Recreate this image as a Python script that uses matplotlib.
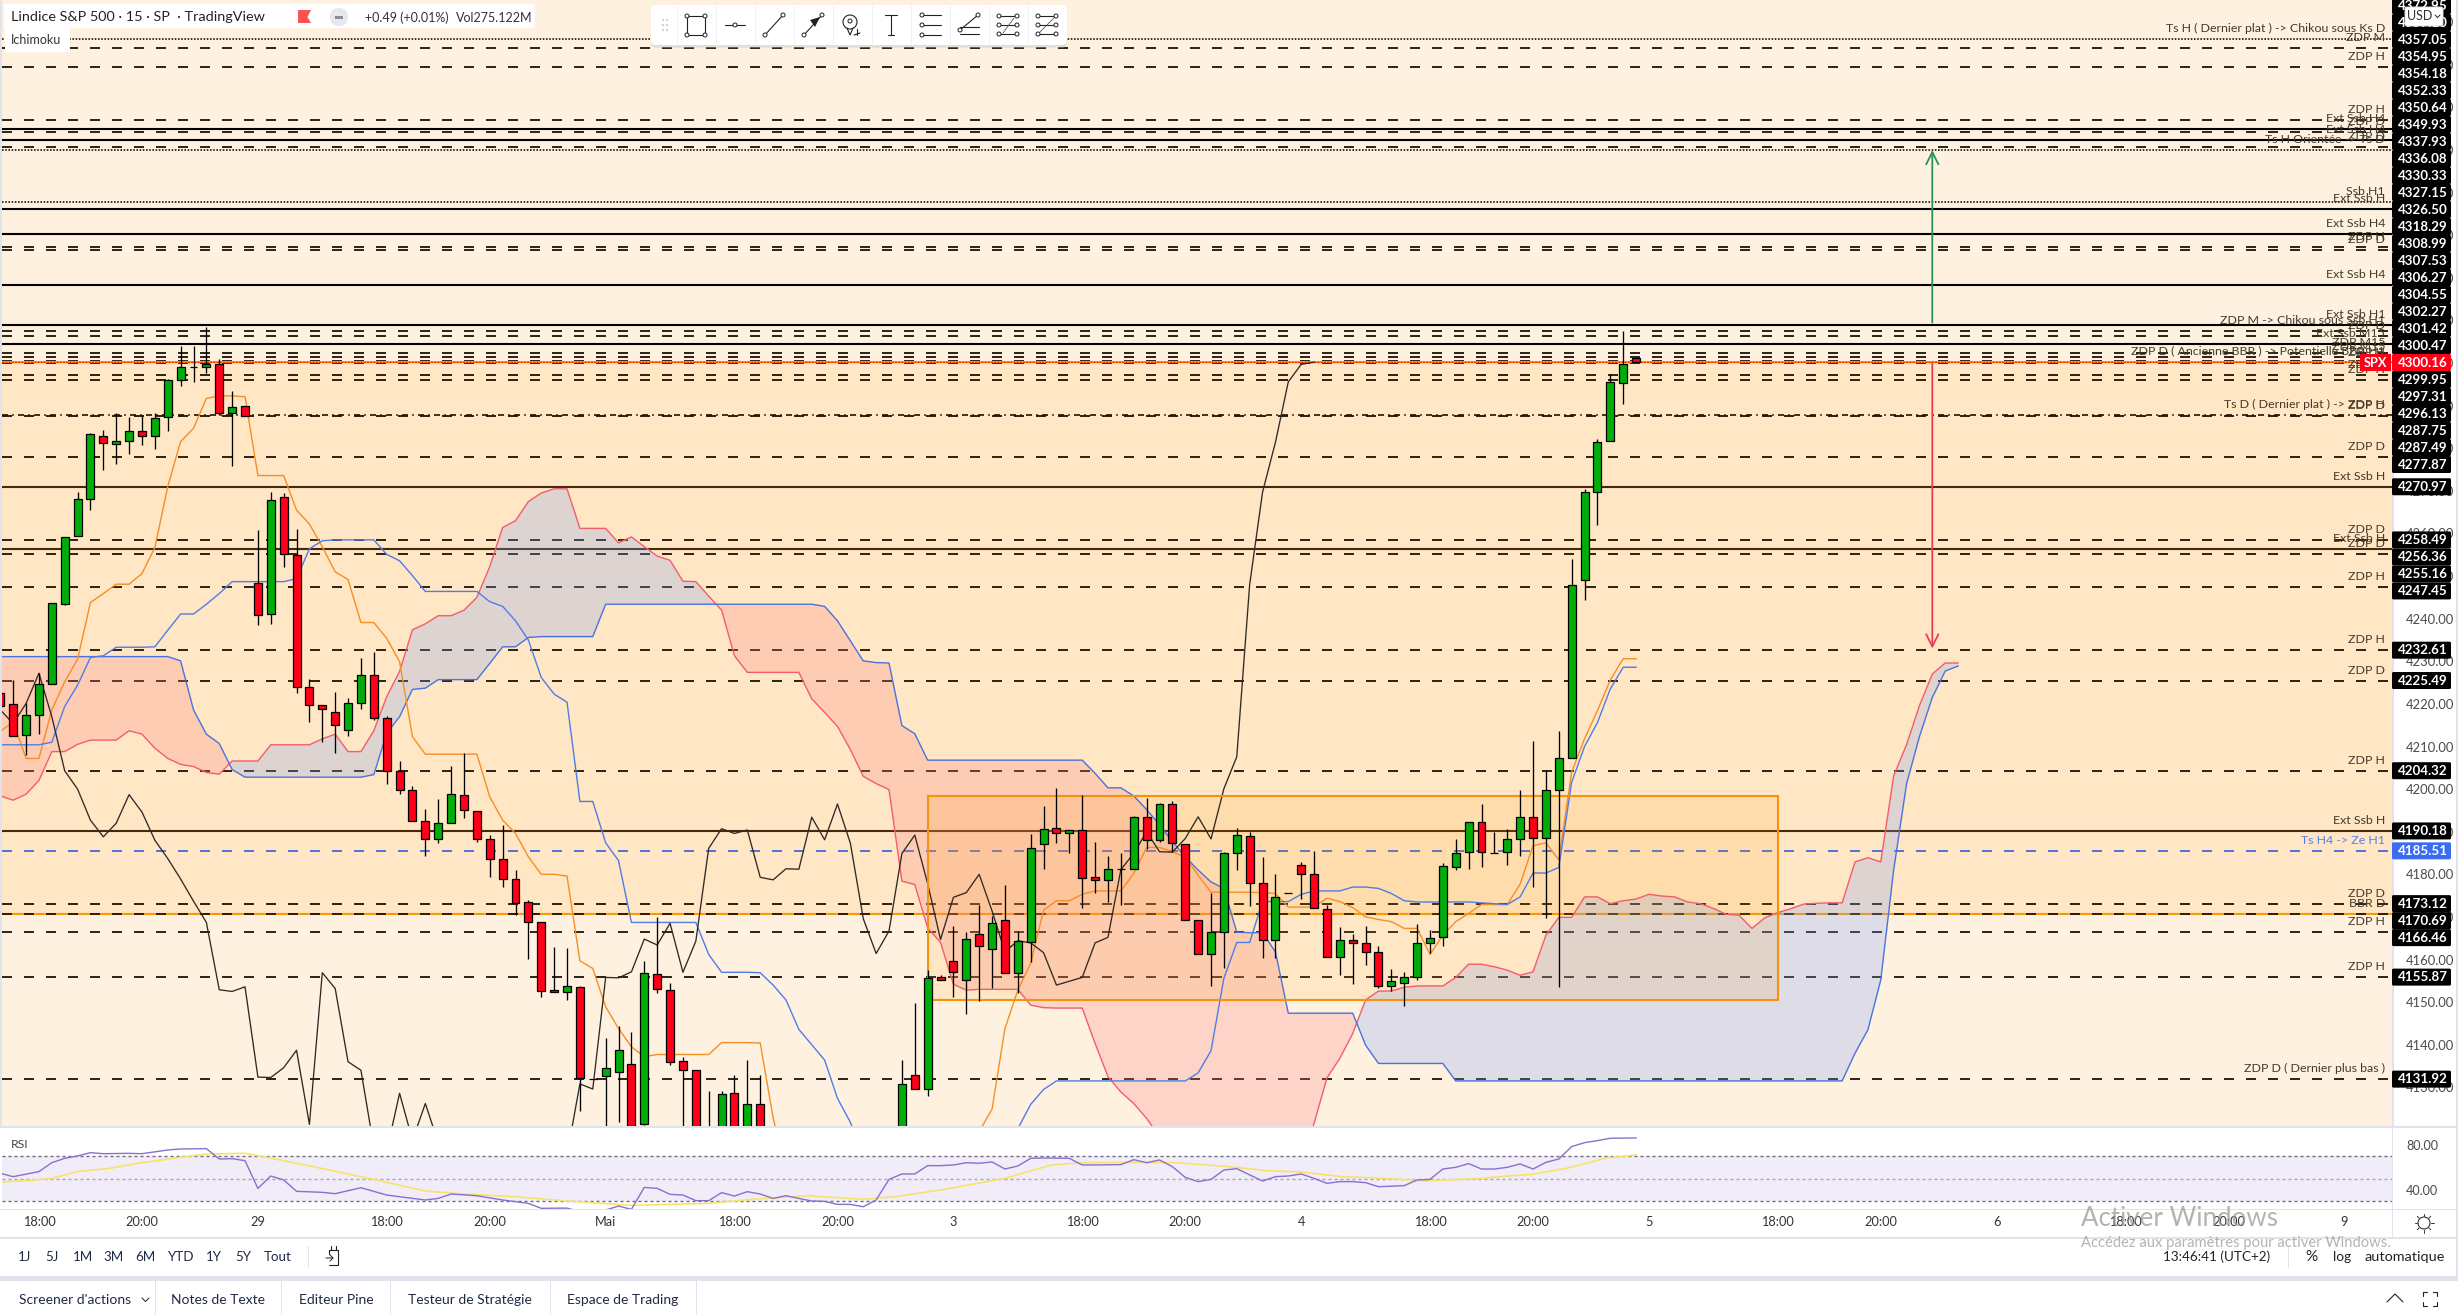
import numpy as np
import matplotlib
matplotlib.use("Agg")
import matplotlib.pyplot as plt
from matplotlib.patches import Rectangle, FancyBboxPatch, Circle

plt.rcParams['font.family'] = ['Lato', 'DejaVu Sans']
plt.rcParams['lines.scale_dashes'] = False

nan = float('nan')

# =========================== candles (S&P 500, 15 min) =========================
# bars 60-69 sit below the visible price range
opens = [4222.5, 4219.9, 4212.6, 4217.3, 4224.6, 4243.5, 4259.3, 4268.0, 4283.0, 4280.9,
         4281.6, 4284.0, 4283.0, 4287.3, 4296.0, 4299.0, 4299.0, 4299.9, 4288.2, 4290.0,
         4248.3, 4241.0, 4268.5, 4254.9, 4223.9, 4219.7, 4218.0, 4213.8, 4220.1, 4226.7,
         4216.6, 4204.2, 4199.9, 4192.4, 4188.4, 4192.0, 4198.5, 4194.8, 4188.4, 4183.5,
         4178.8, 4173.6, 4168.7, 4152.8, 4152.3, 4153.5, 4132.0, 4132.6, 4133.7, 4135.4,
         4121.4, 4156.5, 4152.8, 4136.1, 4134.0, 4118.0, 4114.0, 4128.6, 4114.0, 4126.2,
         nan, nan, nan, nan, nan, nan, nan, nan, nan, nan,
         4118.0, 4133.0, 4129.5, 4155.8, 4159.6, 4155.3, 4166.1, 4162.4, 4169.2, 4156.8,
         4164.0, 4187.0, 4190.8, 4189.6, 4190.3, 4179.3, 4178.6, 4181.2, 4181.2, 4193.4,
         4188.0, 4196.4, 4187.0, 4169.2, 4161.4, 4166.4, 4184.9, 4188.9, 4177.9, 4164.5,
         4175.5, 4182.3, 4180.0, 4171.8, 4160.5, 4164.5, 4163.8, 4161.7, 4153.9, 4154.6,
         4155.9, 4163.9, 4165.2, 4181.8, 4185.2, 4192.2, 4185.1, 4185.2, 4188.3, 4193.4,
         4188.5, 4199.7, 4207.2, 4249.2, 4269.7, 4281.6, 4295.4, 4301.2]
highs = [4222.5, 4225.6, 4220.1, 4227.2, 4243.6, 4259.1, 4269.8, 4283.5, 4284.3, 4288.2,
         4287.4, 4287.8, 4288.4, 4296.2, 4304.0, 4304.0, 4308.4, 4300.9, 4293.4, 4290.0,
         4260.8, 4269.7, 4269.5, 4261.1, 4225.8, 4219.7, 4222.8, 4221.5, 4230.7, 4232.2,
         4217.2, 4206.6, 4200.7, 4195.3, 4197.7, 4205.4, 4208.5, 4194.8, 4189.2, 4191.6,
         4181.0, 4174.0, 4168.7, 4162.9, 4162.7, 4153.8, 4132.0, 4141.6, 4144.4, 4143.0,
         4159.6, 4169.9, 4154.4, 4137.0, 4134.0, 4129.1, 4129.1, 4132.9, 4136.4, 4132.9,
         nan, nan, nan, nan, nan, nan, nan, nan, nan, nan,
         4136.4, 4149.9, 4157.5, 4156.4, 4167.8, 4166.4, 4172.8, 4170.2, 4177.4, 4166.6,
         4189.4, 4196.0, 4200.2, 4190.3, 4198.6, 4187.5, 4184.2, 4184.9, 4193.8, 4197.8,
         4196.7, 4197.1, 4187.0, 4169.2, 4175.5, 4185.2, 4190.8, 4189.9, 4184.0, 4180.0,
         4175.5, 4183.0, 4185.4, 4172.7, 4167.6, 4166.1, 4167.8, 4163.1, 4157.8, 4157.0,
         4168.3, 4166.9, 4182.7, 4188.3, 4192.2, 4196.5, 4189.9, 4190.7, 4199.8, 4211.2,
         4204.4, 4213.6, 4254.0, 4270.5, 4282.2, 4297.4, 4307.6, 4301.2]
lows = [4219.6, 4212.4, 4208.0, 4212.9, 4224.6, 4243.2, 4259.3, 4265.4, 4274.9, 4276.3,
        4278.7, 4280.8, 4279.8, 4284.1, 4294.6, 4295.6, 4297.6, 4287.7, 4275.8, 4287.5,
        4238.6, 4238.7, 4252.2, 4222.6, 4215.8, 4211.1, 4208.5, 4212.5, 4218.7, 4216.2,
        4201.3, 4198.9, 4192.4, 4184.4, 4187.4, 4192.0, 4193.3, 4187.7, 4179.4, 4177.1,
        4170.5, 4160.2, 4151.3, 4152.3, 4150.6, 4124.5, 4132.0, 4118.0, 4121.9, 4118.0,
        4121.1, 4152.1, 4135.3, 4115.0, 4114.0, 4112.0, 4112.0, 4112.0, 4112.0, 4112.0,
        nan, nan, nan, nan, nan, nan, nan, nan, nan, nan,
        4116.0, 4129.5, 4128.0, 4155.3, 4151.3, 4147.3, 4150.3, 4153.2, 4156.8, 4152.1,
        4159.5, 4181.3, 4187.4, 4185.1, 4172.2, 4175.5, 4173.4, 4172.9, 4181.2, 4185.9,
        4187.7, 4185.3, 4169.2, 4161.2, 4153.9, 4158.1, 4180.9, 4172.6, 4160.4, 4160.4,
        4175.5, 4174.3, 4172.0, 4160.5, 4156.4, 4154.3, 4158.8, 4153.3, 4152.5, 4149.2,
        4155.3, 4161.5, 4163.1, 4180.9, 4181.2, 4181.6, 4185.1, 4182.1, 4184.4, 4177.1,
        4169.7, 4153.6, 4207.2, 4244.5, 4261.9, 4281.6, 4290.5, 4300.2]
closes = [4219.6, 4212.4, 4217.5, 4224.6, 4243.6, 4259.1, 4268.0, 4283.3, 4281.2, 4281.6,
          4284.0, 4282.8, 4287.0, 4296.0, 4299.0, 4299.0, 4299.9, 4288.4, 4289.8, 4287.5,
          4240.8, 4267.8, 4255.1, 4223.9, 4219.7, 4218.7, 4215.0, 4220.1, 4226.9, 4216.8,
          4204.2, 4199.9, 4192.4, 4188.4, 4192.0, 4198.8, 4195.0, 4188.4, 4183.5, 4178.8,
          4173.2, 4168.7, 4152.5, 4152.3, 4153.7, 4132.3, 4132.0, 4134.5, 4138.7, 4121.0,
          4156.8, 4153.0, 4135.9, 4134.0, 4116.0, 4114.0, 4128.4, 4114.0, 4126.0, 4114.0,
          nan, nan, nan, nan, nan, nan, nan, nan, nan, nan,
          4130.7, 4129.5, 4155.6, 4155.3, 4157.0, 4164.7, 4163.1, 4168.5, 4156.8, 4164.3,
          4186.1, 4190.6, 4189.6, 4190.3, 4179.1, 4178.6, 4181.2, 4181.2, 4193.4, 4188.0,
          4196.4, 4187.3, 4169.2, 4161.2, 4166.4, 4184.9, 4189.2, 4177.9, 4164.5, 4174.6,
          4175.5, 4180.0, 4172.0, 4160.5, 4164.5, 4163.8, 4161.7, 4153.9, 4154.9, 4155.8,
          4163.8, 4165.1, 4181.9, 4185.1, 4192.2, 4185.2, 4185.1, 4188.2, 4193.4, 4188.5,
          4199.7, 4207.4, 4248.0, 4269.7, 4281.4, 4295.6, 4299.7, 4300.2]

# =========================== ichimoku ==========================================
tenkan = [4213.5, 4215.8, 4207.2, 4207.2, 4218.6, 4225.2, 4230.5, 4243.8, 4245.9, 4248.1,
          4248.1, 4250.6, 4256.7, 4271.0, 4281.6, 4284.7, 4291.7, 4292.3, 4292.3, 4292.1,
          4273.6, 4273.6, 4273.6, 4265.5, 4262.2, 4256.9, 4251.0, 4249.2, 4239.1, 4239.1,
          4235.4, 4229.9, 4212.3, 4208.2, 4208.2, 4208.2, 4208.2, 4208.2, 4198.2, 4192.7,
          4189.6, 4184.1, 4180.0, 4180.0, 4179.6, 4159.7, 4157.9, 4148.9, 4143.8, 4139.5,
          4137.2, 4137.7, 4137.7, 4137.7, 4137.7, 4137.7, 4140.5, 4140.5, 4140.5, 4140.4,
          4122.9, 4110.0, nan, nan, nan, nan, nan, nan, nan, nan,
          nan, nan, nan, nan, nan, 4110.0, 4119.6, 4124.9, 4143.8, 4152.8,
          4159.1, 4171.6, 4173.8, 4173.8, 4175.3, 4176.1, 4176.1, 4176.1, 4180.2, 4186.3,
          4186.3, 4185.3, 4184.0, 4179.8, 4175.8, 4175.8, 4175.8, 4175.8, 4175.7, 4175.5,
          4172.3, 4172.3, 4172.3, 4174.4, 4173.6, 4172.2, 4170.0, 4169.4, 4168.9, 4167.3,
          4167.3, 4161.2, 4165.7, 4168.9, 4170.8, 4172.9, 4172.9, 4172.9, 4177.7, 4186.7,
          4187.4, 4183.4, 4204.0, 4211.8, 4218.4, 4225.6, 4230.6, 4230.6]
kijun = [4210.4, 4210.4, 4210.4, 4210.4, 4211.0, 4219.4, 4224.4, 4230.9, 4231.3, 4233.3,
         4233.3, 4233.3, 4233.4, 4237.3, 4241.1, 4241.1, 4243.4, 4245.9, 4248.7, 4248.7,
         4248.7, 4248.7, 4248.7, 4249.4, 4256.4, 4258.3, 4258.5, 4258.5, 4258.5, 4258.5,
         4255.1, 4253.6, 4250.1, 4246.4, 4246.4, 4246.4, 4246.4, 4246.4, 4244.0, 4242.9,
         4239.5, 4235.0, 4226.2, 4222.3, 4220.4, 4197.1, 4197.1, 4187.4, 4183.2, 4168.7,
         4168.7, 4168.7, 4168.7, 4168.7, 4168.7, 4161.2, 4157.0, 4157.0, 4157.0, 4156.9,
         4154.0, 4150.5, 4143.6, 4140.0, 4136.4, 4127.4, 4121.8, 4113.0, nan, nan,
         nan, nan, nan, nan, nan, nan, nan, nan, 4113.0, 4120.3,
         4126.0, 4129.5, 4131.5, 4131.5, 4131.5, 4131.5, 4131.5, 4131.5, 4131.5, 4131.5,
         4131.5, 4131.5, 4131.5, 4133.4, 4138.6, 4155.6, 4164.0, 4164.0, 4173.6, 4173.6,
         4173.6, 4175.3, 4176.1, 4176.1, 4176.1, 4177.0, 4177.0, 4176.7, 4175.5, 4173.8,
         4173.5, 4173.5, 4173.5, 4173.5, 4173.5, 4173.3, 4173.1, 4172.9, 4174.7, 4180.3,
         4180.3, 4181.6, 4201.6, 4210.0, 4215.6, 4223.5, 4228.6, 4228.6]
senkou_a = [4198.4, 4197.4, 4198.8, 4202.0, 4208.8, 4208.8, 4210.5, 4211.5, 4211.5, 4211.5,
            4213.7, 4212.9, 4209.6, 4207.2, 4205.8, 4205.3, 4203.9, 4203.5, 4206.6, 4206.6,
            4206.6, 4210.4, 4210.4, 4210.4, 4210.4, 4211.8, 4212.9, 4208.8, 4208.8, 4213.7,
            4221.7, 4227.6, 4237.4, 4238.8, 4240.7, 4240.7, 4242.0, 4245.0, 4252.2, 4261.4,
            4263.0, 4267.5, 4269.5, 4270.5, 4270.5, 4261.2, 4261.2, 4261.2, 4257.8, 4259.2,
            4256.9, 4254.7, 4253.7, 4248.8, 4248.7, 4245.3, 4242.0, 4231.3, 4227.4, 4227.4,
            4227.4, 4227.4, 4227.4, 4221.2, 4218.0, 4214.7, 4209.3, 4203.0, 4201.3, 4199.9,
            4178.4, 4177.6, 4167.4, 4164.0, 4154.2, 4152.8, 4153.0, 4153.0, 4153.0, 4153.0,
            4149.3, 4148.7, 4148.6, 4148.6, 4148.6, 4140.3, 4132.5, 4128.9, 4126.2, 4122.7,
            4118.4, 4112.0, 4112.0, 4112.0, 4112.0, 4112.0, 4112.0, 4112.0, 4112.0, 4112.0,
            4112.0, 4112.0, 4121.5, 4132.2, 4136.8, 4142.6, 4150.5, 4152.6, 4152.6, 4153.5,
            4153.8, 4153.8, 4153.8, 4155.8, 4158.9, 4158.9, 4158.3, 4157.5, 4156.3, 4157.1,
            4165.7, 4169.9, 4169.9, 4174.7, 4174.7, 4173.1, 4173.8, 4174.2, 4175.3, 4174.9,
            4174.7, 4173.5, 4173.1, 4172.0, 4170.6, 4170.4, 4167.3, 4169.8, 4171.0, 4171.9,
            4173.0, 4173.2, 4173.3, 4173.3, 4182.9, 4183.9, 4182.9, 4203.1, 4210.4, 4219.6,
            4227.0, 4229.6, 4229.6]
senkou_b = [4231.1, 4231.1, 4231.1, 4231.1, 4231.1, 4231.1, 4231.1, 4231.1, 4231.1, 4231.1,
            4231.1, 4231.1, 4231.1, 4231.1, 4230.1, 4218.6, 4212.9, 4210.7, 4204.6, 4202.8,
            4202.8, 4202.8, 4202.8, 4202.8, 4202.8, 4202.8, 4202.8, 4202.8, 4202.8, 4203.4,
            4213.1, 4217.0, 4223.4, 4223.7, 4225.7, 4225.7, 4225.7, 4225.7, 4229.5, 4233.4,
            4233.4, 4235.6, 4235.8, 4235.8, 4235.8, 4235.8, 4235.8, 4243.4, 4243.4, 4243.4,
            4243.4, 4243.4, 4243.4, 4243.4, 4243.4, 4243.4, 4243.4, 4243.4, 4243.4, 4243.4,
            4243.4, 4243.4, 4243.4, 4243.4, 4242.9, 4239.5, 4234.8, 4230.1, 4229.7, 4229.6,
            4214.9, 4213.0, 4206.8, 4206.8, 4206.8, 4206.8, 4206.8, 4206.8, 4206.8, 4206.8,
            4206.8, 4206.8, 4206.8, 4206.8, 4206.8, 4203.7, 4200.3, 4200.3, 4198.4, 4195.2,
            4191.6, 4187.7, 4184.1, 4181.0, 4178.2, 4176.7, 4166.4, 4166.3, 4166.3, 4161.8,
            4147.4, 4147.4, 4147.4, 4147.4, 4147.4, 4147.4, 4139.9, 4135.6, 4135.6, 4135.6,
            4135.6, 4135.6, 4135.6, 4131.5, 4131.5, 4131.5, 4131.5, 4131.5, 4131.5, 4131.5,
            4131.5, 4131.5, 4131.5, 4131.5, 4131.5, 4131.5, 4131.5, 4131.5, 4131.5, 4131.5,
            4131.5, 4131.5, 4131.5, 4131.5, 4131.5, 4131.5, 4131.5, 4131.5, 4131.5, 4131.5,
            4131.5, 4131.5, 4131.5, 4131.5, 4138.0, 4143.5, 4155.2, 4181.0, 4201.2, 4212.3,
            4221.5, 4227.7, 4228.9]
chikou = [4218.6, 4215.4, 4220.1, 4227.2, 4217.0, 4204.3, 4200.0, 4192.7, 4188.8, 4192.0,
          4198.7, 4194.6, 4188.0, 4183.7, 4178.9, 4173.7, 4168.7, 4152.9, 4152.5, 4153.6,
          4132.4, 4132.3, 4134.6, 4138.7, 4121.3, 4156.9, 4153.2, 4136.0, 4134.0, 4116.0,
          4115.0, 4128.6, 4117.6, 4126.2, 4117.0, nan, nan, nan, nan, nan,
          nan, nan, nan, nan, 4114.1, 4130.8, 4129.6, 4155.8, 4155.7, 4157.1,
          4164.8, 4163.4, 4168.5, 4157.0, 4164.3, 4186.1, 4190.7, 4189.6, 4190.4, 4179.3,
          4178.7, 4181.3, 4181.2, 4193.4, 4188.1, 4196.5, 4187.3, 4169.6, 4161.4, 4166.7,
          4184.9, 4189.2, 4177.8, 4164.7, 4174.6, 4175.7, 4180.0, 4171.4, 4161.8, 4164.4,
          4163.9, 4161.6, 4154.0, 4154.9, 4155.8, 4163.9, 4165.2, 4181.1, 4184.9, 4190.0,
          4185.3, 4185.2, 4188.4, 4193.5, 4188.3, 4200.1, 4207.6, 4248.0, 4269.7, 4281.4,
          4295.6, 4299.7, 4300.2]

# =========================== RSI ===============================================
rsi_bars = [0, 1, 3, 4, 5, 6, 7, 8, 10, 11, 13, 14, 16, 17, 18, 19, 20, 21, 22, 23, 25, 26, 28, 30, 31,
            33, 34, 35, 37, 39, 41, 42, 44, 45, 47, 48, 49, 50, 51, 52, 53, 54, 55, 56, 57, 58, 59, 60,
            61, 62, 63, 64, 65, 66, 67, 68, 69, 70, 71, 72, 73, 74, 75, 76, 77, 78, 79, 80, 81, 83, 84,
            85, 87, 88, 89, 90, 91, 92, 93, 94, 95, 96, 98, 99, 100, 101, 102, 103, 104, 105, 106, 107,
            109, 110, 111, 112, 113, 114, 115, 116, 117, 118, 119, 120, 121, 122, 123, 124, 125, 127]
rsi_vals = [54.9, 51.9, 56.4, 64.3, 68.2, 70.3, 73.2, 72.3, 72.6, 72.3, 75.6, 76.5, 76.8, 67.6, 67.9, 66.1,
            41.5, 52.5, 49.0, 38.9, 38.0, 36.8, 42.1, 35.6, 34.1, 31.2, 32.6, 36.5, 35.0, 31.2, 28.2, 23.8,
            24.0, 20.8, 22.3, 25.8, 22.9, 42.4, 41.5, 36.2, 35.6, 30.6, 30.6, 37.7, 34.7, 38.6, 36.5, 32.6,
            35.0, 32.6, 30.3, 30.0, 27.3, 27.3, 25.2, 31.2, 49.5, 54.3, 54.3, 61.7, 61.7, 62.3, 64.3, 63.8,
            65.0, 58.7, 61.4, 68.2, 68.5, 68.2, 62.3, 62.3, 62.6, 67.0, 64.3, 66.7, 60.8, 51.3, 47.5, 49.5,
            57.8, 59.0, 48.0, 51.9, 52.5, 54.3, 50.4, 46.0, 47.5, 47.5, 46.6, 43.0, 43.9, 49.0, 49.5, 58.7,
            60.2, 63.5, 58.7, 58.7, 60.2, 63.2, 58.7, 64.6, 67.6, 78.6, 82.1, 83.9, 86.0, 86.3]
rsi_ma_bars = [0, 2, 4, 6, 8.5, 10.7, 13.4, 16, 19, 20.7, 24.3, 28.6, 33, 36, 40, 44, 49, 55, 58.4, 62.7,
               67, 69.4, 73, 78, 81.6, 84, 87.6, 91.3, 95.4, 98.4, 101, 104.2, 107.6, 110.6, 114.9, 119.1,
               121.6, 124.6, 127]
rsi_ma_vals = [47.2, 48.3, 50.4, 56.4, 59.3, 63.8, 68.2, 72.0, 72.6, 69.1, 60.8, 50.4, 39.2, 36.5, 34.1, 30.3,
               26.4, 28.2, 31.8, 35.0, 31.8, 34.1, 40.0, 50.4, 62.3, 64.3, 64.6, 64.3, 60.8, 57.2, 56.0, 51.9,
               50.4, 48.0, 50.4, 54.3, 59.3, 68.2, 71.2]
rsi_levels = [70, 50, 30]

# =========================== horizontal levels =================================
level_prices = [4376.0, 4374.0, 4369.5, 4357.05, 4354.95, 4354.18, 4352.33, 4350.64, 4349.93, 4337.93,
                4336.08, 4330.33, 4327.15, 4326.50, 4318.29, 4308.99, 4307.53, 4306.27, 4304.55, 4302.27,
                4301.42, 4300.47, 4299.95, 4297.31, 4296.13, 4287.75, 4287.49, 4277.87, 4270.97, 4258.49,
                4256.36, 4255.16, 4247.45, 4232.61, 4225.49, 4204.32, 4190.18, 4185.51, 4173.12, 4170.69,
                4166.46, 4155.87, 4131.92]
level_styles = ['dot', 'dash', 'dash', 'dash', 'solid', 'dash', 'solid', 'dash', 'dot', 'dot',
                'solid', 'solid', 'dash', 'dash', 'solid', 'solid', 'dash', 'dash', 'solid', 'dash',
                'dash', 'dash', 'dash', 'dash', 'dash', 'dashdot', 'dash', 'dash', 'brown', 'dash',
                'brown', 'dash', 'dash', 'dash', 'dash', 'dash', 'brown', 'blue', 'dash', 'orange',
                'dash', 'dash', 'dash']
level_labels = ['Ts H ( Dernier plat ) -> Chikou sous Ks D', 'ZDP M', 'ZDP H', 'ZDP H', 'Ext Ssb H4', 'ZDP D',
                'Ext Ssb H4', 'ZDP D', 'Ts H Orientée -> Ts D', 'Ssb H1', 'Ext Ssb H', 'Ext Ssb H4', 'ZDP H',
                'ZDP D', 'Ext Ssb H4', 'Ext Ssb H1', 'ZDP M -> Chikou sous Ssb H1', 'ZDP D', 'Ext Ssb M15',
                'ZDP M15', 'ZDP M15', 'ZDP D ( Ancienne BBR ) -> Potentielle BBR H1', 'ZDP H', 'ZDP H', 'ZDP H',
                'Ts D ( Dernier plat ) -> ZDP H', 'ZDP D', 'ZDP D', 'Ext Ssb H', 'ZDP D', 'Ext Ssb H', 'ZDP D',
                'ZDP H', 'ZDP H', 'ZDP D', 'ZDP H', 'Ext Ssb H', 'Ts H4 -> Ze H1', 'ZDP D', 'BBR D', 'ZDP H',
                'ZDP H', 'ZDP D ( Dernier plus bas )']

# price tags stacked on the axis, top to bottom, first one is cut by the window
stacked_tags = ['4372.95', '4359.10', '4357.05', '4354.95', '4354.18', '4352.33', '4350.64', '4349.93',
                '4337.93', '4336.08', '4330.33', '4327.15', '4326.50', '4318.29', '4308.99', '4307.53',
                '4306.27', '4304.55', '4302.27', '4301.42', '4300.47', '4300.16', '4299.95', '4297.31',
                '4296.13', '4287.75', '4287.49', '4277.87']
free_tags = [4270.97, 4258.49, 4256.36, 4255.16, 4247.45, 4232.61, 4225.49, 4204.32, 4190.18, 4185.51,
             4173.12, 4170.69, 4166.46, 4155.87, 4131.92]

box_price = [4150.5, 4198.4]
box_bars = [72, 138]
zone_price = [4170.69, 4300.16]
arrow_up = [4309.5, 4350.0]
arrow_down = [4300.2, 4233.0]
arrow_bar = 150

time_bars = [3, 11, 20, 30, 38, 47, 57, 65, 74, 84, 92, 101, 111, 119, 128, 138, 146, 155, 165, 173, 182]
time_labels = ['18:00', '20:00', '29', '18:00', '20:00', 'Mai', '18:00', '20:00', '3', '18:00', '20:00',
               '4', '18:00', '20:00', '5', '18:00', '20:00', '6', '18:00', '20:00', '9']
range_buttons = ['1J', '5J', '1M', '3M', '6M', 'YTD', '1Y', '5Y', 'Tout']
range_x = [25, 52, 83, 114, 145, 180, 214, 243, 278]
tabs = ["Screener d'actions", 'Notes de Texte', 'Editeur Pine', 'Testeur de Stratégie', 'Espace de Trading']
tabs_x = [75, 218, 336, 470, 623]
tab_seps = [155, 281, 390, 550, 696]

# =========================== figure ============================================
W, H = 2458, 1315
fig = plt.figure(figsize=(W / 100, H / 100), dpi=100, facecolor='white')
PX = 0.72  # one pixel in points

def frame(x0, y0, x1, y1):
    return [x0 / W, 1 - y1 / H, (x1 - x0) / W, (y1 - y0) / H]

PANE_L, PANE_R, PANE_B = 2, 2392, 1126
XMIN, XMAX = (PANE_L - 0.3) / 12.88, (PANE_R - 0.3) / 12.88
YMIN, YMAX = 4120.92, 4385.23

ax = fig.add_axes(frame(PANE_L, 0, PANE_R, PANE_B), zorder=1)
ax.set_xlim(XMIN, XMAX)
ax.set_ylim(YMIN, YMAX)
ax.set_facecolor('#fff1e0')
for s in ax.spines.values():
    s.set_visible(False)
ax.yaxis.tick_right()
ax.set_yticks(np.arange(4130, 4381, 10))
ax.set_yticklabels([f'{v:.2f}' for v in np.arange(4130, 4381, 10)], fontsize=9.4, color='#4a4a4a')
ax.tick_params(axis='y', length=0, pad=10)
ax.tick_params(axis='x', length=0, labelbottom=False)

# zone between the orange levels
ax.axhspan(zone_price[0], zone_price[1], color='#ffe6c4', lw=0, zorder=0.6)

DARK = '#1c1206'
dash = (0, (10 * PX, 12 * PX))
dot = (0, (1.6 * PX, 1.6 * PX))
dashdot = (0, (6 * PX, 4.2 * PX, 1.6 * PX, 4.2 * PX))
for price, style in zip(level_prices, level_styles):
    if style == 'dash':
        ax.axhline(price, color=DARK, lw=1.3, ls=dash, zorder=1)
    elif style == 'dot':
        ax.axhline(price, color='#111111', lw=1.2, ls=dot, zorder=1)
    elif style == 'dashdot':
        ax.axhline(price, color=DARK, lw=1.2, ls=dashdot, zorder=1)
    elif style == 'solid':
        ax.axhline(price, color='black', lw=1.5, zorder=1)
    elif style == 'brown':
        ax.axhline(price, color='#46290a', lw=1.5, zorder=1)
    elif style == 'blue':
        ax.axhline(price, color='#3f68e0', lw=1.3, ls=dash, zorder=1)
    elif style == 'orange':
        ax.axhline(price, color='#ff9800', lw=1.5, zorder=0.9)
ax.axhline(zone_price[1], color='#ff9800', lw=1.5, zorder=1.1)
ax.axhline(zone_price[1], color='#f01010', lw=0.9, ls=dot, zorder=1.2)
# dashes of the 4170.69 level also run on the orange line
ax.axhline(zone_price[0], color=DARK, lw=1.3, ls=dash, zorder=1)

# cloud
ssa = np.array(senkou_a)
ssb = np.array(senkou_b)
cloud_x = np.arange(len(ssa))
ax.fill_between(cloud_x, ssa, ssb, where=ssa <= ssb, interpolate=True,
                color=(248 / 255, 129 / 255, 128 / 255), alpha=0.25, lw=0, zorder=2)
ax.fill_between(cloud_x, ssa, ssb, where=ssa >= ssb, interpolate=True,
                color=(120 / 255, 161 / 255, 1.0), alpha=0.25, lw=0, zorder=2)
ax.plot(cloud_x, ssa, color='#f25d6e', lw=1.0, zorder=3)
ax.plot(cloud_x, ssb, color='#4a72dc', lw=1.0, zorder=3)
ax.plot(np.arange(len(tenkan)), tenkan, color='#f78d25', lw=1.0, zorder=3)
ax.plot(np.arange(len(kijun)), kijun, color='#4f7de8', lw=1.0, zorder=3)
ax.plot(np.arange(len(chikou)), chikou, color='#2f2a26', lw=0.95, zorder=3)

# box
ax.add_patch(Rectangle((box_bars[0], box_price[0]), box_bars[1] - box_bars[0], box_price[1] - box_price[0],
                       facecolor='#ff9800', alpha=0.12, lw=0, zorder=2.5))
ax.add_patch(Rectangle((box_bars[0], box_price[0]), box_bars[1] - box_bars[0], box_price[1] - box_price[0],
                       fill=False, edgecolor='#f7920f', lw=1.5, zorder=3.2))

# candles
o = np.array(opens)
h = np.array(highs)
l = np.array(lows)
c = np.array(closes)
bars = np.arange(len(o))
ok = ~np.isnan(o)
ax.vlines(bars[ok], l[ok], h[ok], color='black', lw=0.95, zorder=4)
up = ok & (c >= o)
dn = ok & (c < o)
ax.bar(bars[up], (c - o)[up], bottom=o[up], width=0.62, color='#00ad0a', edgecolor='black', lw=0.9, zorder=5)
ax.bar(bars[dn], (c - o)[dn], bottom=o[dn], width=0.62, color='#ff0018', edgecolor='black', lw=0.9, zorder=5)

# arrows
ax.annotate('', xy=(arrow_bar, arrow_up[1]), xytext=(arrow_bar, arrow_up[0]),
            arrowprops=dict(arrowstyle='->', color='#27935a', lw=1.3, mutation_scale=22, shrinkA=0, shrinkB=0), zorder=6)
ax.annotate('', xy=(arrow_bar, arrow_down[1]), xytext=(arrow_bar, arrow_down[0]),
            arrowprops=dict(arrowstyle='->', color='#ee3a5a', lw=1.3, mutation_scale=22, shrinkA=0, shrinkB=0), zorder=6)

# level labels, right aligned just above their line
for price, label, style in zip(level_prices, level_labels, level_styles):
    ax.annotate(label, xy=(1, price), xycoords=ax.get_yaxis_transform(), xytext=(-7, 10.5),
                textcoords='offset pixels', ha='right', va='center', fontsize=8.9,
                color='#5c7de8' if style == 'blue' else '#453a2a', zorder=8)

# =========================== RSI pane ==========================================
rsi = fig.add_axes(frame(PANE_L, 1127, PANE_R, 1209), zorder=1)
rsi.set_xlim(XMIN, XMAX)
rsi.set_ylim(23.2, 96)
for s in rsi.spines.values():
    s.set_visible(False)
rsi.axhspan(30, 70, xmin=0, xmax=1, color='#f0ecf8', lw=0, zorder=0.5)
for v in rsi_levels:
    rsi.axhline(v, color='#6f6a80' if v != 50 else '#a9a4b6', lw=1.0, ls=(0, (3 * PX, 3 * PX)), zorder=1)
rsi.plot(rsi_bars, rsi_vals, color='#8a6fcf', lw=1.0, zorder=3)
rsi.plot(rsi_ma_bars, rsi_ma_vals, color='#f7e36b', lw=1.2, zorder=2)
rsi.yaxis.tick_right()
rsi.set_yticks([40, 80])
rsi.set_yticklabels(['40.00', '80.00'], fontsize=9.0, color='#4a4a4a')
rsi.tick_params(axis='y', length=0, pad=10)
rsi.set_xticks(time_bars)
rsi.set_xticklabels(time_labels, fontsize=9.2, color='#333333')
rsi.tick_params(axis='x', length=0, pad=5)

# =========================== window furniture (pixel coordinates) ==============
ui = fig.add_axes([0, 0, 1, 1], zorder=5)
ui.set_xlim(0, W)
ui.set_ylim(H, 0)
ui.axis('off')

def rect(x0, y0, x1, y1, color, z=1, **kw):
    ui.add_patch(Rectangle((x0, y0), x1 - x0, y1 - y0, facecolor=color, edgecolor='none', zorder=z, **kw))

def txt(x, y, s, size=9.5, color='#222222', ha='center', z=6, **kw):
    ui.text(x, y, s, fontsize=size, color=color, ha=ha, va='center', zorder=z, **kw)

def seg(xs, ys, color='#222222', lw=0.8, z=6):
    ui.plot(xs, ys, color=color, lw=lw, solid_capstyle='round', zorder=z)

SEP = '#e0e3eb'
rect(0, 0, 2, 1127, SEP)
rect(2392, 0, 2394, 1127, SEP, z=0.5)
rect(2456, 0, W, 1280, SEP)
rect(0, 1126, 2456, 1127.5, SEP)
rect(0, 1208.5, 2456, 1210, SEP)
rect(0, 1237, 2456, 1238.5, SEP)
rect(2391.5, 1127, 2393, 1237, SEP)
rect(0, 1276, W, 1281, SEP)

# legend top left
rect(4, 4, 535, 28, 'white', z=3)
rect(5, 28, 70, 52, 'white', z=3)
txt(11, 17, 'Lindice S&P 500 · 15 · SP  · TradingView', size=10.4, ha='left', color='#222222')
ui.add_patch(plt.Polygon([(298, 10), (311, 10), (307.5, 17), (311, 23), (298, 23)], facecolor='#ff5252', zorder=6))
ui.add_patch(FancyBboxPatch((330, 8), 18, 18, boxstyle='round,pad=0,rounding_size=9', facecolor='#e6e8ef',
                            edgecolor='none', zorder=5))
rect(335, 15.5, 343, 19, '#8a8d98', z=6)
txt(365, 17.5, '+0.49 (+0.01%)', size=9.0, ha='left', color='#333333')
txt(456, 17.5, 'Vol275.122M', size=9.0, ha='left', color='#333333')
txt(11, 40, 'Ichimoku', size=9.0, ha='left', color='#333333')

# drawing toolbar
ui.add_patch(FancyBboxPatch((651, 5), 416, 40, boxstyle='round,pad=0,rounding_size=5', facecolor='#c8c8c8',
                            edgecolor='none', alpha=0.45, zorder=2.9, transform=ui.transData + matplotlib.transforms.ScaledTranslation(0, -2 / 72, fig.dpi_scale_trans)))
ui.add_patch(FancyBboxPatch((651, 5), 416, 40, boxstyle='round,pad=0,rounding_size=5', facecolor='white',
                            edgecolor='none', zorder=3))
for gx in (663, 667):
    for gy in (20, 25, 30):
        ui.add_patch(Circle((gx, gy), 1.1, facecolor='#c8ccd6', zorder=6))
for sx in (677, 716, 755, 794, 833, 872, 911, 950, 989, 1028):
    rect(sx, 6, sx + 0.8, 44, '#eef0f4', z=4)

def node(x, y):
    ui.add_patch(Circle((x, y), 2.0, facecolor='white', edgecolor='#222222', lw=0.7, zorder=7))

seg([687, 687], [16, 35]); seg([705, 705], [16, 35]); seg([687, 705], [16, 16]); seg([687, 705], [35, 35])
for a, b in ((687, 16), (705, 16), (687, 35), (705, 35)):
    node(a, b)
seg([725, 745], [25, 25]); node(735, 25)
seg([765, 783], [35, 15]); node(765, 35); node(783, 15)
seg([804, 822], [35, 15]); node(804, 35); node(822, 15)
ui.add_patch(plt.Polygon([(810, 20), (820, 17), (815, 27)], facecolor='#222222', zorder=6))
ui.add_patch(Circle((850, 22), 7, fill=False, edgecolor='#222222', lw=0.8, zorder=6)); node(850, 21)
seg([847, 850, 853], [28, 35, 28]); seg([857, 857], [29, 35]); seg([854, 860], [35, 33])
seg([891, 891], [15, 35]); seg([885, 897], [15, 15]); seg([888, 894], [35, 35])
for yy in (15, 25, 35):
    seg([922, 941], [yy, yy]); node(922, yy)
seg([960, 978], [30, 15]); node(960, 30); node(978, 15); seg([960, 979], [27, 27]); seg([960, 979], [34, 34])
for cx in (1008, 1047):
    for yy in (16, 25, 34):
        seg([cx - 10, cx + 10], [yy, yy]); node(cx - 9, yy); node(cx + 9, yy)
seg([1003, 1014], [33, 18], color='#555555', lw=0.6); seg([1040, 1054], [32, 18], color='#555555', lw=0.6)

# price tags
def price_y(p):
    return (YMAX - p) * PANE_B / (YMAX - YMIN)

TAG_H = 17
def tag(y, s, color='black'):
    ui.add_patch(FancyBboxPatch((2392, y - TAG_H / 2), 59, TAG_H, boxstyle='round,pad=0,rounding_size=1.5',
                                facecolor=color, edgecolor='none', zorder=5))
    txt(2423, y + 0.3, s, size=9.6, color='white', z=7, fontweight='bold')

base = 464.5
for k, s in enumerate(reversed(stacked_tags)):
    tag(base - k * TAG_H, s, '#ff0018' if s == '4300.16' else 'black')
# tags that would collide get pushed down, one tag height apart
prev_y = -100
for p in free_tags:
    y = max(price_y(p), prev_y + TAG_H)
    tag(y, f'{p:.2f}', '#3c6df0' if p == 4185.51 else 'black')
    prev_y = y
rect(2360, 354, 2391, 371, '#ff0018', z=5)
txt(2375.5, 362.8, 'SPX', size=9.2, color='white', fontweight='bold', z=7)

# USD button
ui.add_patch(FancyBboxPatch((2405, 7), 38, 19, boxstyle='round,pad=0,rounding_size=2', facecolor='white',
                            edgecolor='#d9dce3', lw=0.7, zorder=8))
txt(2420, 16, 'USD', size=9.0, color='#333333', z=9)
seg([2435, 2437.5, 2440], [15, 17.5, 15], lw=0.7, z=9)

# RSI title, range bar, tabs
txt(11, 1144, 'RSI', size=8.8, ha='left', color='#444444')
for x, s in zip(range_x, range_buttons):
    txt(x, 1257, s, size=9.6, color='#1e2a44')
rect(308, 1246, 309, 1268, SEP)
seg([329, 338, 338, 329], [1250, 1250, 1265, 1265], lw=0.8)
seg([329, 329], [1250, 1254], lw=0.8); seg([326, 333, 330], [1258, 1258, 1255], lw=0.7)
seg([333, 330], [1258, 1261], lw=0.7); seg([331, 331], [1246, 1250], lw=0.8); seg([336, 336], [1246, 1250], lw=0.8)

txt(2217, 1257, '13:46:41 (UTC+2)', size=9.7, color='#222222')
rect(2288, 1246, 2289, 1268, SEP)
txt(2311, 1257, '%', size=11, color='#222222')
txt(2342, 1257, 'log', size=9.8, color='#222222')
txt(2405, 1257, 'automatique', size=10.4, color='#222222')

ui.add_patch(Circle((2424, 1223), 6, fill=False, edgecolor='#333333', lw=0.8, zorder=6))
for a in np.deg2rad(np.arange(0, 360, 45)):
    seg([2424 + 7 * np.cos(a), 2424 + 9.5 * np.cos(a)], [1223 + 7 * np.sin(a), 1223 + 9.5 * np.sin(a)], color='#333333', lw=0.7)

for x, s in zip(tabs_x, tabs):
    txt(x, 1300, s, size=10.0, color='#1e2a44')
seg([142, 145.5, 149], [1298, 1301.5, 1298], lw=0.7)
for x in tab_seps:
    rect(x, 1281, x + 1, H, SEP)
seg([2387, 2395, 2403], [1302, 1294, 1302], lw=0.8)
for a, b, dx, dy in ((2423, 1292, 1, 1), (2437, 1292, -1, 1), (2423, 1306, 1, -1), (2437, 1306, -1, -1)):
    seg([a + 4 * dx, a, a], [b, b, b + 4 * dy], lw=0.8)

# windows watermark
txt(2081, 1219, 'Activer Windows', size=18.6, ha='left', color='#9a9a9a', z=7, alpha=0.75)
txt(2081, 1243, 'Accédez aux paramètres pour activer Windows.', size=10.6, ha='left', color='#9a9a9a', z=7, alpha=0.75)

fig.savefig('out.png', dpi=100)
